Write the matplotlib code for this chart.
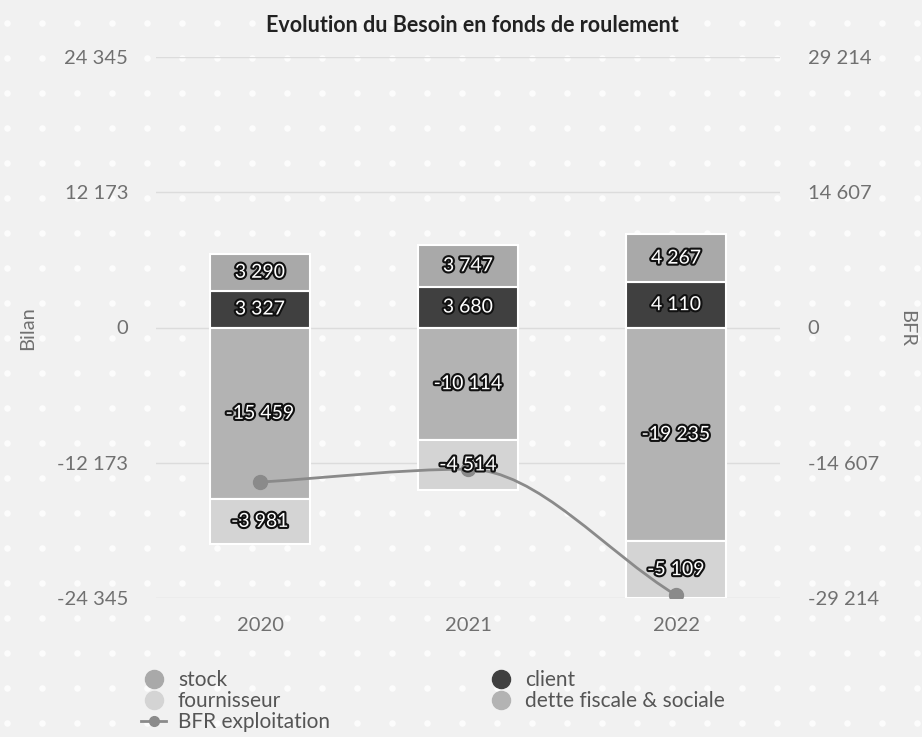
import numpy as np
import matplotlib
matplotlib.use("Agg")
from matplotlib import pyplot as plt
from matplotlib.path import Path
from matplotlib.patches import PathPatch
from matplotlib.lines import Line2D
import matplotlib.patheffects as pe

plt.rcParams["font.family"] = ["Lato", "DejaVu Sans"]

years = ["2020", "2021", "2022"]
stock = [3290, 3747, 4267]
client = [3327, 3680, 4110]
dette = [-15459, -10114, -19235]
fournisseur = [-3981, -4514, -5109]
bfr = [-16700, -15300, -28900]

left_lim = 24345
right_lim = 29214
left_ticks = [-24345, -12173, 0, 12173, 24345]
right_ticks = [-29214, -14607, 0, 14607, 29214]

c_stock = "#a9a9a9"
c_client = "#404040"
c_dette = "#b3b3b3"
c_fourn = "#d4d4d4"
c_bfr = "#8a8a8a"
c_text = "#707070"


def fmt(v):
    return f"{v:,}".replace(",", " ")


fig = plt.figure(figsize=(9.22, 7.37), dpi=100, facecolor="#f1f1f1")

# decorative dotted background
bg = fig.add_axes([0, 0, 1, 1], zorder=-5)
bg.set_xlim(0, 922)
bg.set_ylim(737, 0)
bg.axis("off")
gx, gy = np.meshgrid(np.arange(7, 922, 35), np.arange(23, 737, 35))
bg.scatter(gx.ravel(), gy.ravel(), s=22, color="white", alpha=0.85, linewidths=0)

ax = fig.add_axes([156 / 922, 1 - 598 / 737, 624 / 922, 541 / 737])
ax.patch.set_alpha(0)
x = np.arange(len(years))
w = 0.48
kw = dict(width=w, edgecolor="white", linewidth=1.5, zorder=3)
ax.bar(x, client, color=c_client, **kw)
ax.bar(x, stock, bottom=client, color=c_stock, **kw)
ax.bar(x, dette, color=c_dette, **kw)
ax.bar(x, fournisseur, bottom=dette, color=c_fourn, **kw)

ax.set_xlim(-0.5, 2.5)
ax.set_ylim(-left_lim, left_lim)
ax.set_yticks(left_ticks)
ax.set_yticklabels([fmt(t) for t in left_ticks])
ax.set_xticks(x)
ax.set_xticklabels(years)
ax.tick_params(axis="y", length=0, pad=20, labelsize=14.5, labelcolor=c_text)
ax.tick_params(axis="x", length=0, pad=14, labelsize=14.5, labelcolor=c_text)
ax.grid(axis="y", color="#dcdcdc", linewidth=1, zorder=0)
for s in ax.spines.values():
    s.set_visible(False)

ax2 = ax.twinx()
ax2.set_ylim(-right_lim, right_lim)
ax2.set_yticks(right_ticks)
ax2.set_yticklabels([fmt(t) for t in right_ticks])
ax2.tick_params(axis="y", length=0, pad=20, labelsize=14.5, labelcolor=c_text)
for s in ax2.spines.values():
    s.set_visible(False)

fig.text(28 / 922, 1 - 328 / 737, "Bilan", rotation=90, ha="center", va="center",
         fontsize=14.5, color=c_text)
fig.text(907 / 922, 1 - 328 / 737, "BFR", rotation=-90, ha="center", va="center",
         fontsize=14.5, color=c_text)

# smooth BFR line (monotone cubic drawn as bezier segments)
yv = np.array(bfr, dtype=float)
d = np.diff(yv)
m = np.zeros(len(yv))
m[0], m[-1] = d[0], d[-1]
for i in range(1, len(yv) - 1):
    m[i] = 0 if d[i - 1] * d[i] <= 0 else 2 / (1 / d[i - 1] + 1 / d[i])
verts = [(x[0], yv[0])]
codes = [Path.MOVETO]
for i in range(len(yv) - 1):
    verts += [(x[i] + 1 / 3, yv[i] + m[i] / 3), (x[i + 1] - 1 / 3, yv[i + 1] - m[i + 1] / 3), (x[i + 1], yv[i + 1])]
    codes += [Path.CURVE4] * 3
ax2.add_patch(PathPatch(Path(verts, codes), facecolor="none", edgecolor=c_bfr, linewidth=2, zorder=4))
ax2.plot(x, bfr, "o", color=c_bfr, markersize=10, zorder=5)

# segment labels
effects = [pe.Stroke(linewidth=3, foreground="#111111"), pe.Normal()]
for i in range(len(years)):
    segs = [(client[i] / 2, client[i]),
            (client[i] + stock[i] / 2, stock[i]),
            (dette[i] / 2, dette[i]),
            (dette[i] + fournisseur[i] / 2, fournisseur[i])]
    for yc, v in segs:
        ax2.text(x[i], yc, fmt(v), transform=ax.transData, ha="center", va="center",
                 fontsize=14, color="white", path_effects=effects, zorder=6)

fig.text(0.512, 1 - 25 / 737, "Evolution du Besoin en fonds de roulement", ha="center",
         va="center", fontsize=15.5, fontweight="bold", color="#222222")


def dot(c):
    return Line2D([], [], marker="o", linestyle="none", markersize=13, color=c)


lkw = dict(loc="upper left", frameon=False, fontsize=15, labelspacing=0.05,
           handlelength=1.2, handletextpad=0.55, labelcolor="#555555", borderpad=0)
leg1 = fig.legend([dot(c_stock), dot(c_fourn),
                   Line2D([], [], marker="o", color=c_bfr, linewidth=2, markersize=7)],
                  ["stock", "fournisseur", "BFR exploitation"],
                  bbox_to_anchor=(131 / 922, 1 - 660 / 737), **lkw)
leg2 = fig.legend([dot(c_client), dot(c_dette)], ["client", "dette fiscale & sociale"],
                  bbox_to_anchor=(478 / 922, 1 - 660 / 737), **lkw)

fig.savefig("out.png", dpi=100, facecolor=fig.get_facecolor())
